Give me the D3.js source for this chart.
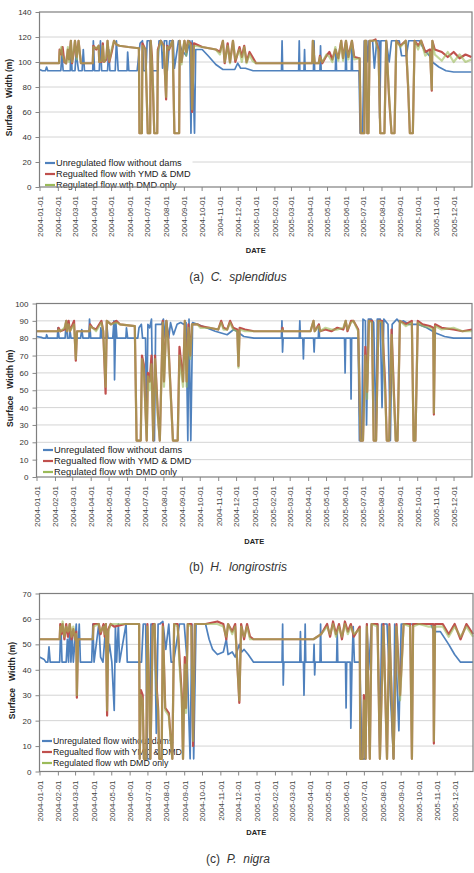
<!DOCTYPE html>
<html>
<head>
<meta charset="utf-8">
<script src="https://cdn.jsdelivr.net/npm/d3@7"></script>
<style>
body { margin: 0; background: #fff; }
svg { display: block; font-family: "Liberation Sans", Arial, sans-serif; }
</style>
</head>
<body>
<svg id="chart" width="474" height="873"></svg>
<script>
// month tick labels on the date axis
var monthLabels = ['2004-01-01','2004-02-01','2004-03-01','2004-04-01','2004-05-01','2004-06-01',
  '2004-07-01','2004-08-01','2004-09-01','2004-10-01','2004-11-01','2004-12-01',
  '2005-01-01','2005-02-01','2005-03-01','2005-04-01','2005-05-01','2005-06-01',
  '2005-07-01','2005-08-01','2005-09-01','2005-10-01','2005-11-01','2005-12-01'];

var seriesNames = ['Unregulated flow without dams', 'Regualted flow with YMD & DMD', 'Regulated flow wth DMD only'];

// series points: [days since 2004-01-01, surface width (m)]
// (a) C. splendidus
var aUnreg = [[0,94],[5,93],[10,93],[12,96],[14,93],[36,93],[38,106],[40,93],[52,93],[53,117],[55,93],[60,93],[62,108],[64,100],[66,93],[72,93],[74,110],[76,93],[90,93],[91,117],[93,93],[101,93],[103,117],[105,93],[115,93],[117,110],[119,93],[128,93],[130,117],[133,93],[148,93],[149,108],[151,93],[165,93],[170,115],[174,117],[176,93],[180,93],[182,117],[186,117],[188,93],[200,93],[202,117],[206,117],[208,95],[211,117],[215,117],[216,93],[220,117],[226,117],[228,95],[235,117],[240,110],[248,105],[254,117],[256,43],[258,117],[262,43],[264,110],[275,110],[285,105],[298,98],[310,94],[330,94],[335,99],[340,95],[348,95],[361,93],[409,93],[410,117],[411,93],[438,93],[439,117],[440,93],[447,93],[448,110],[449,93],[463,93],[464,117],[465,93],[474,93],[475,113],[476,93],[500,93],[501,110],[502,93],[517,93],[518,117],[519,93],[527,93],[528,117],[529,93],[540,93],[542,43],[546,43],[549,117],[553,117],[555,100],[557,117],[563,117],[566,95],[570,117],[574,117],[575,55],[577,117],[586,117],[591,100],[595,117],[603,117],[608,117],[612,105],[620,105],[624,117],[642,117],[650,110],[659,105],[664,100],[675,96],[687,93],[700,92],[730,92]];
var aYmd = [[0,99],[33,99],[34,110],[37,106],[39,112],[42,100],[45,99],[48,110],[50,102],[53,117],[55,99],[58,108],[60,117],[63,104],[66,117],[70,99],[90,99],[91,113],[96,110],[100,113],[101,100],[105,100],[107,115],[109,100],[113,102],[115,117],[118,100],[122,108],[126,117],[130,114],[135,113],[150,112],[168,111],[169,43],[173,43],[174,115],[179,110],[183,43],[187,43],[188,117],[190,105],[192,75],[194,43],[199,43],[200,110],[205,117],[210,113],[214,70],[216,113],[219,110],[225,117],[228,43],[236,43],[237,117],[240,100],[243,110],[245,117],[248,108],[251,117],[256,115],[258,60],[261,115],[275,112],[298,110],[305,108],[310,117],[313,99],[318,115],[322,100],[327,117],[331,100],[338,112],[342,104],[346,113],[350,100],[355,108],[360,104],[366,99],[461,99],[462,117],[465,99],[472,99],[474,105],[478,99],[485,105],[490,108],[495,102],[500,110],[505,103],[510,117],[513,103],[518,117],[522,104],[528,117],[532,104],[541,103],[543,43],[549,43],[550,117],[552,117],[554,43],[556,43],[558,117],[563,117],[568,118],[573,110],[576,43],[583,43],[586,117],[591,70],[595,43],[600,43],[603,117],[610,113],[619,117],[623,80],[626,43],[631,43],[634,117],[640,113],[645,117],[652,108],[660,110],[663,77],[664,117],[668,110],[680,108],[690,104],[700,108],[710,103],[720,106],[730,104]];
var aDmd = [[0,99],[33,99],[34,108],[37,112],[39,105],[42,101],[45,99],[48,112],[50,100],[53,117],[55,100],[58,110],[60,117],[63,102],[66,117],[70,99],[90,99],[91,112],[96,111],[100,113],[101,100],[105,101],[107,113],[109,100],[113,104],[115,117],[118,101],[122,110],[126,117],[130,114],[135,113],[150,112],[168,111],[169,43],[173,43],[174,113],[179,110],[183,43],[187,43],[188,117],[190,100],[192,80],[194,43],[199,43],[200,108],[205,117],[210,112],[214,72],[216,112],[219,111],[225,117],[228,43],[236,43],[237,117],[240,98],[243,112],[245,117],[248,105],[251,117],[256,113],[258,62],[261,113],[275,112],[298,110],[305,106],[310,117],[313,100],[318,113],[322,99],[327,117],[331,102],[338,110],[342,100],[346,112],[350,99],[355,106],[360,101],[366,99],[461,99],[462,117],[465,99],[472,99],[474,104],[478,100],[485,106],[490,104],[495,100],[500,112],[505,101],[510,117],[513,101],[518,117],[522,102],[528,117],[532,102],[541,103],[543,43],[549,43],[550,117],[552,117],[554,43],[556,43],[558,117],[563,117],[568,117],[573,108],[576,43],[583,43],[586,117],[591,72],[595,43],[600,43],[603,117],[610,112],[619,117],[623,82],[626,43],[631,43],[634,117],[640,110],[645,117],[652,105],[660,108],[663,78],[664,117],[668,106],[680,101],[690,108],[700,100],[710,106],[720,100],[730,102]];

// (b) H. longirostris
var bUnreg = [[0,81],[8,80.5],[12,80],[16,80],[17,82],[19,80],[35,80],[36,86],[38,80],[48,80],[50,90],[52,80],[55,80],[56,85],[58,80],[74,80],[76,85],[78,80],[88,80],[89,91],[91,80],[107,80],[108,86],[110,80],[117,80],[118,88],[120,80],[128,80],[130,90],[131,56],[133,90],[135,80],[150,80],[151,86],[153,80],[170,80],[172,86],[176,88],[178,80],[183,80],[185,30],[187,88],[190,86],[193,91],[196,21],[198,21],[200,88],[210,88],[213,91],[216,80],[218,90],[222,80],[225,89],[230,82],[236,88],[242,89],[247,88],[251,89],[254,21],[256,91],[259,21],[262,89],[270,88],[285,86],[300,84],[320,82],[331,85],[336,84],[340,83],[348,81],[365,80],[411,80],[412,90],[413,72],[414,80],[441,80],[442,90],[443,80],[447,80],[448,68],[449,80],[465,80],[466,72],[467,80],[473,80],[474,88],[475,80],[517,80],[518,60],[519,80],[527,80],[528,45],[529,80],[540,80],[542,21],[546,21],[548,91],[552,90],[554,30],[557,91],[562,91],[566,89],[570,21],[572,91],[577,91],[580,40],[583,91],[590,88],[594,21],[597,88],[605,91],[610,89],[616,90],[625,88],[640,88],[655,86],[670,83],[685,81],[700,80],[731,80]];
var bYmd = [[0,84],[36,84],[37,86],[40,84],[47,85],[50,90],[51,84],[54,90],[56,84],[63,90],[66,67],[68,84],[89,84],[90,88],[94,86],[100,85],[109,90],[112,84],[116,48],[118,90],[125,88],[134,90],[140,88],[165,87],[168,21],[175,21],[177,70],[180,65],[185,21],[187,60],[190,55],[193,70],[196,21],[199,70],[204,35],[207,21],[212,90],[214,55],[218,90],[221,80],[229,21],[237,21],[240,75],[243,65],[246,55],[249,90],[252,55],[255,88],[258,70],[261,88],[270,88],[275,87],[290,86],[305,85],[310,90],[314,86],[320,85],[325,90],[330,86],[337,85],[339,64],[341,86],[350,85],[365,84],[412,84],[413,86],[414,84],[460,84],[465,90],[467,84],[474,88],[476,84],[485,85],[495,84],[505,86],[515,85],[519,90],[522,84],[528,90],[532,90],[540,85],[544,21],[548,21],[552,75],[555,49],[558,90],[563,90],[566,21],[570,21],[574,90],[580,90],[585,55],[588,21],[592,21],[596,85],[600,48],[603,21],[606,21],[610,90],[620,88],[630,90],[633,21],[636,21],[640,90],[648,88],[660,87],[666,86],[667,36],[669,88],[680,86],[700,85],[715,84],[731,85]];
var bDmd = [[0,84],[36,84],[37,85],[40,84],[47,86],[50,90],[51,84],[54,88],[56,84],[63,88],[66,68],[68,84],[89,84],[90,87],[94,86],[100,84],[109,89],[112,84],[116,52],[118,90],[125,88],[134,89],[140,88],[165,87],[168,21],[175,21],[177,68],[180,62],[185,21],[187,58],[190,50],[193,65],[196,21],[199,68],[204,33],[207,21],[212,89],[214,52],[218,90],[221,78],[229,21],[237,21],[240,70],[243,60],[246,52],[249,90],[252,52],[255,86],[258,68],[261,88],[270,88],[275,86],[290,86],[305,85],[310,89],[314,85],[320,85],[325,89],[330,85],[337,84],[339,63],[341,85],[350,84],[365,84],[412,84],[413,85],[414,84],[460,84],[465,90],[467,84],[474,87],[476,84],[485,86],[495,85],[505,85],[515,86],[519,90],[522,85],[528,89],[532,90],[540,84],[544,21],[548,21],[552,70],[555,45],[558,90],[563,89],[566,21],[570,21],[574,90],[580,89],[585,50],[588,21],[592,21],[596,82],[600,45],[603,21],[606,21],[610,90],[620,87],[630,89],[633,21],[636,21],[640,89],[648,87],[660,86],[666,85],[667,37],[669,87],[680,85],[700,86],[715,84],[731,84]];

// (c) P. nigra
var cUnreg = [[0,45],[8,44],[11,43],[14,43],[16,49],[18,43],[34,43],[36,58],[38,43],[45,43],[47,52],[49,43],[51,58],[53,43],[55,55],[57,43],[62,58],[64,43],[67,58],[69,43],[88,43],[90,58],[92,43],[100,58],[103,45],[107,43],[112,58],[114,43],[118,50],[122,43],[126,24],[128,57],[130,43],[133,58],[135,43],[146,58],[148,43],[172,43],[175,58],[179,58],[182,5],[186,5],[188,58],[194,58],[197,15],[200,58],[203,58],[208,59],[213,48],[218,58],[222,43],[226,43],[236,58],[244,58],[249,43],[254,5],[257,58],[260,5],[264,58],[270,58],[280,58],[286,52],[292,48],[300,46],[310,47],[315,52],[318,46],[325,47],[330,45],[337,50],[341,47],[345,48],[352,46],[361,43],[409,43],[410,58],[411,34],[412,43],[439,43],[440,55],[441,43],[445,43],[446,30],[447,43],[448,58],[449,43],[462,43],[463,50],[464,38],[465,43],[473,43],[474,58],[475,43],[501,43],[502,55],[503,43],[516,43],[517,25],[518,43],[524,43],[525,17],[527,43],[529,57],[531,43],[540,43],[544,5],[549,5],[552,58],[555,40],[560,58],[570,58],[574,8],[577,58],[583,58],[586,58],[597,5],[599,58],[606,16],[610,58],[630,58],[642,58],[660,58],[665,55],[676,55],[690,50],[700,46],[710,43],[731,43]];
var cYmd = [[0,52],[34,52],[35,58],[37,54],[39,58],[42,52],[45,58],[48,53],[51,58],[54,52],[57,56],[60,52],[62,55],[63,29],[65,52],[90,52],[91,58],[100,58],[103,54],[108,58],[110,53],[112,58],[114,22],[116,56],[120,58],[126,57],[145,58],[168,58],[169,5],[171,32],[174,30],[176,5],[180,5],[182,58],[185,30],[187,5],[191,58],[194,58],[197,35],[200,25],[202,5],[206,5],[208,58],[212,25],[218,23],[224,5],[227,58],[233,58],[236,45],[240,30],[242,5],[245,45],[247,25],[250,58],[256,58],[259,10],[262,58],[280,58],[300,59],[310,58],[315,52],[318,58],[325,55],[330,58],[337,27],[340,58],[345,52],[350,58],[355,53],[361,52],[462,52],[475,54],[485,58],[490,53],[495,59],[500,54],[505,58],[510,52],[515,59],[520,55],[525,58],[530,53],[540,57],[541,5],[545,5],[547,30],[550,5],[552,58],[557,5],[560,58],[570,58],[574,5],[580,58],[586,5],[590,58],[597,5],[602,58],[608,30],[614,58],[625,58],[628,5],[630,58],[640,58],[655,58],[664,58],[665,11],[667,58],[680,58],[690,54],[700,58],[710,52],[720,58],[731,54]];
var cDmd = [[0,52],[34,52],[35,57],[37,55],[39,59],[42,53],[45,57],[48,55],[51,58],[54,53],[57,57],[60,52],[62,54],[63,30],[65,52],[90,52],[91,57],[100,58],[103,55],[108,57],[110,54],[112,58],[114,24],[116,55],[120,58],[126,58],[145,58],[168,58],[169,5],[171,30],[174,28],[176,5],[180,5],[182,57],[185,28],[187,5],[191,57],[194,58],[197,33],[200,24],[202,5],[206,5],[208,57],[212,24],[218,22],[224,5],[227,58],[233,57],[236,42],[240,28],[242,5],[245,42],[247,23],[250,58],[256,57],[259,12],[262,58],[280,58],[300,58],[310,57],[315,53],[318,58],[325,54],[330,57],[337,28],[340,57],[345,53],[350,57],[355,52],[361,52],[462,52],[475,54],[485,57],[490,54],[495,58],[500,53],[505,57],[510,53],[515,58],[520,54],[525,57],[530,54],[540,56],[541,5],[545,5],[547,28],[550,5],[552,57],[557,5],[560,58],[570,57],[574,5],[580,57],[586,5],[590,57],[597,5],[602,57],[608,28],[614,58],[625,57],[628,5],[630,57],[640,58],[655,57],[664,57],[665,12],[667,57],[680,57],[690,53],[700,57],[710,53],[720,57],[731,53]];

var colors = ['#4f81bd', '#c0504d', '#9bbb59'];
var parseDate = d3.utcParse('%Y-%m-%d');
var startDate = parseDate('2004-01-01');
var endDate = parseDate('2006-01-01');

// layout of the three stacked charts
var panels = [
  { tag: '(a)', species: 'C.  splendidus', series: [aUnreg, aYmd, aDmd], yMax: 140, yStep: 20,
    left: 39.5, right: 472, top: 12, bottom: 187, titleX: 9, legendY: 163, legendX: 45, legendW: 152, legendFont: 9.2,
    dateY: 253, captionY: 281 },
  { tag: '(b)', species: 'H.  longirostris', series: [bUnreg, bYmd, bDmd], yMax: 100, yStep: 10,
    left: 36.5, right: 472, top: 303.5, bottom: 477, titleX: 10, legendY: 450, legendX: 43, legendW: 153, legendFont: 9.4,
    dateY: 544, captionY: 571 },
  { tag: '(c)', species: 'P.  nigra', series: [cUnreg, cYmd, cDmd], yMax: 70, yStep: 10,
    left: 39.5, right: 473, top: 593.5, bottom: 771.5, titleX: 12, legendY: 741, legendX: 42, legendW: 140, legendFont: 8.8,
    dateY: 835, captionY: 863 }
];

var svg = d3.select('#chart');

panels.forEach(function(p) {
  var g = svg.append('g');
  var x = d3.scaleUtc().domain([startDate, endDate]).range([p.left, p.right]);
  var y = d3.scaleLinear().domain([0, p.yMax]).range([p.bottom, p.top]);
  var yTicks = d3.range(0, p.yMax + 1, p.yStep);

  // gridlines
  g.append('g').selectAll('line')
    .data(yTicks.filter(function(d) { return d > 0 && d < p.yMax; }))
    .enter().append('line')
    .attr('x1', p.left).attr('x2', p.right)
    .attr('y1', function(d) { return y(d); })
    .attr('y2', function(d) { return y(d); })
    .attr('stroke', '#d4d4d4').attr('stroke-width', 1);

  // y axis
  var yAxis = g.append('g')
    .attr('transform', 'translate(' + p.left + ',0)')
    .call(d3.axisLeft(y).tickValues(yTicks).tickSize(4).tickPadding(4));
  yAxis.select('.domain').remove();
  yAxis.selectAll('line').attr('stroke', '#888');
  yAxis.selectAll('text').attr('fill', '#333').style('font-size', '8px');

  // x axis with rotated month labels
  var xAxis = g.append('g')
    .attr('transform', 'translate(0,' + p.bottom + ')')
    .call(d3.axisBottom(x)
      .tickValues(monthLabels.map(parseDate))
      .tickFormat(function(d, i) { return monthLabels[i]; })
      .tickSize(4));
  xAxis.select('.domain').remove();
  xAxis.selectAll('line').attr('stroke', '#888');
  xAxis.selectAll('text')
    .attr('transform', 'rotate(-90)')
    .attr('x', -9).attr('y', 0).attr('dy', '0.35em')
    .style('text-anchor', 'end')
    .style('font-size', '8px')
    .attr('fill', '#444');

  // legend box (sits under the lines)
  var leg = g.append('g');
  leg.append('rect')
    .attr('x', p.left + 1).attr('y', p.legendY - 7)
    .attr('width', p.legendW).attr('height', p.bottom - p.legendY + 6)
    .attr('fill', '#fff');
  leg.selectAll('g')
    .data(seriesNames)
    .enter().append('g')
    .attr('transform', function(d, i) { return 'translate(' + p.legendX + ',' + (p.legendY + i * 11) + ')'; })
    .each(function(d, i) {
      var item = d3.select(this);
      item.append('line').attr('x1', 0).attr('x2', 10).attr('y1', 0).attr('y2', 0)
        .attr('stroke', colors[i]).attr('stroke-width', 2.2);
      item.append('text').attr('x', 11).attr('y', 0).attr('dy', '0.35em')
        .style('font-size', p.legendFont + 'px').attr('fill', '#222').text(d);
    });

  // series lines
  var line = d3.line()
    .x(function(d) { return x(d3.utcDay.offset(startDate, d[0])); })
    .y(function(d) { return y(d[1]); });

  g.append('g').selectAll('path')
    .data(p.series)
    .enter().append('path')
    .attr('d', line)
    .attr('fill', 'none')
    .attr('stroke', function(d, i) { return colors[i]; })
    .attr('stroke-width', function(d, i) { return i === 0 ? 1.7 : 2.2; })
    .attr('stroke-opacity', function(d, i) { return i === 2 ? 0.6 : 1; })
    .attr('stroke-linejoin', 'round');

  // plot border
  g.append('rect')
    .attr('x', p.left).attr('y', p.top)
    .attr('width', p.right - p.left).attr('height', p.bottom - p.top)
    .attr('fill', 'none').attr('stroke', '#7f7f7f').attr('stroke-width', 1.2);

  // axis titles
  g.append('text')
    .attr('transform', 'translate(' + p.titleX + ',' + ((p.top + p.bottom) / 2 - 2) + ') rotate(-90)')
    .attr('dy', '0.35em')
    .style('text-anchor', 'middle').style('font-size', '8.5px').style('font-weight', 'bold')
    .style('white-space', 'pre').attr('fill', '#222')
    .text('Surface   Width (m)');

  g.append('text')
    .attr('x', (p.left + p.right) / 2).attr('y', p.dateY)
    .style('text-anchor', 'middle').style('font-size', '7.5px').style('font-weight', 'bold')
    .attr('fill', '#222').text('DATE');

  var cap = g.append('text')
    .attr('x', 238).attr('y', p.captionY)
    .style('text-anchor', 'middle').style('font-size', '12px').style('white-space', 'pre')
    .attr('fill', '#333');
  cap.append('tspan').text(p.tag + '  ');
  cap.append('tspan').style('font-style', 'italic').text(p.species);
});
</script>
</body>
</html>
